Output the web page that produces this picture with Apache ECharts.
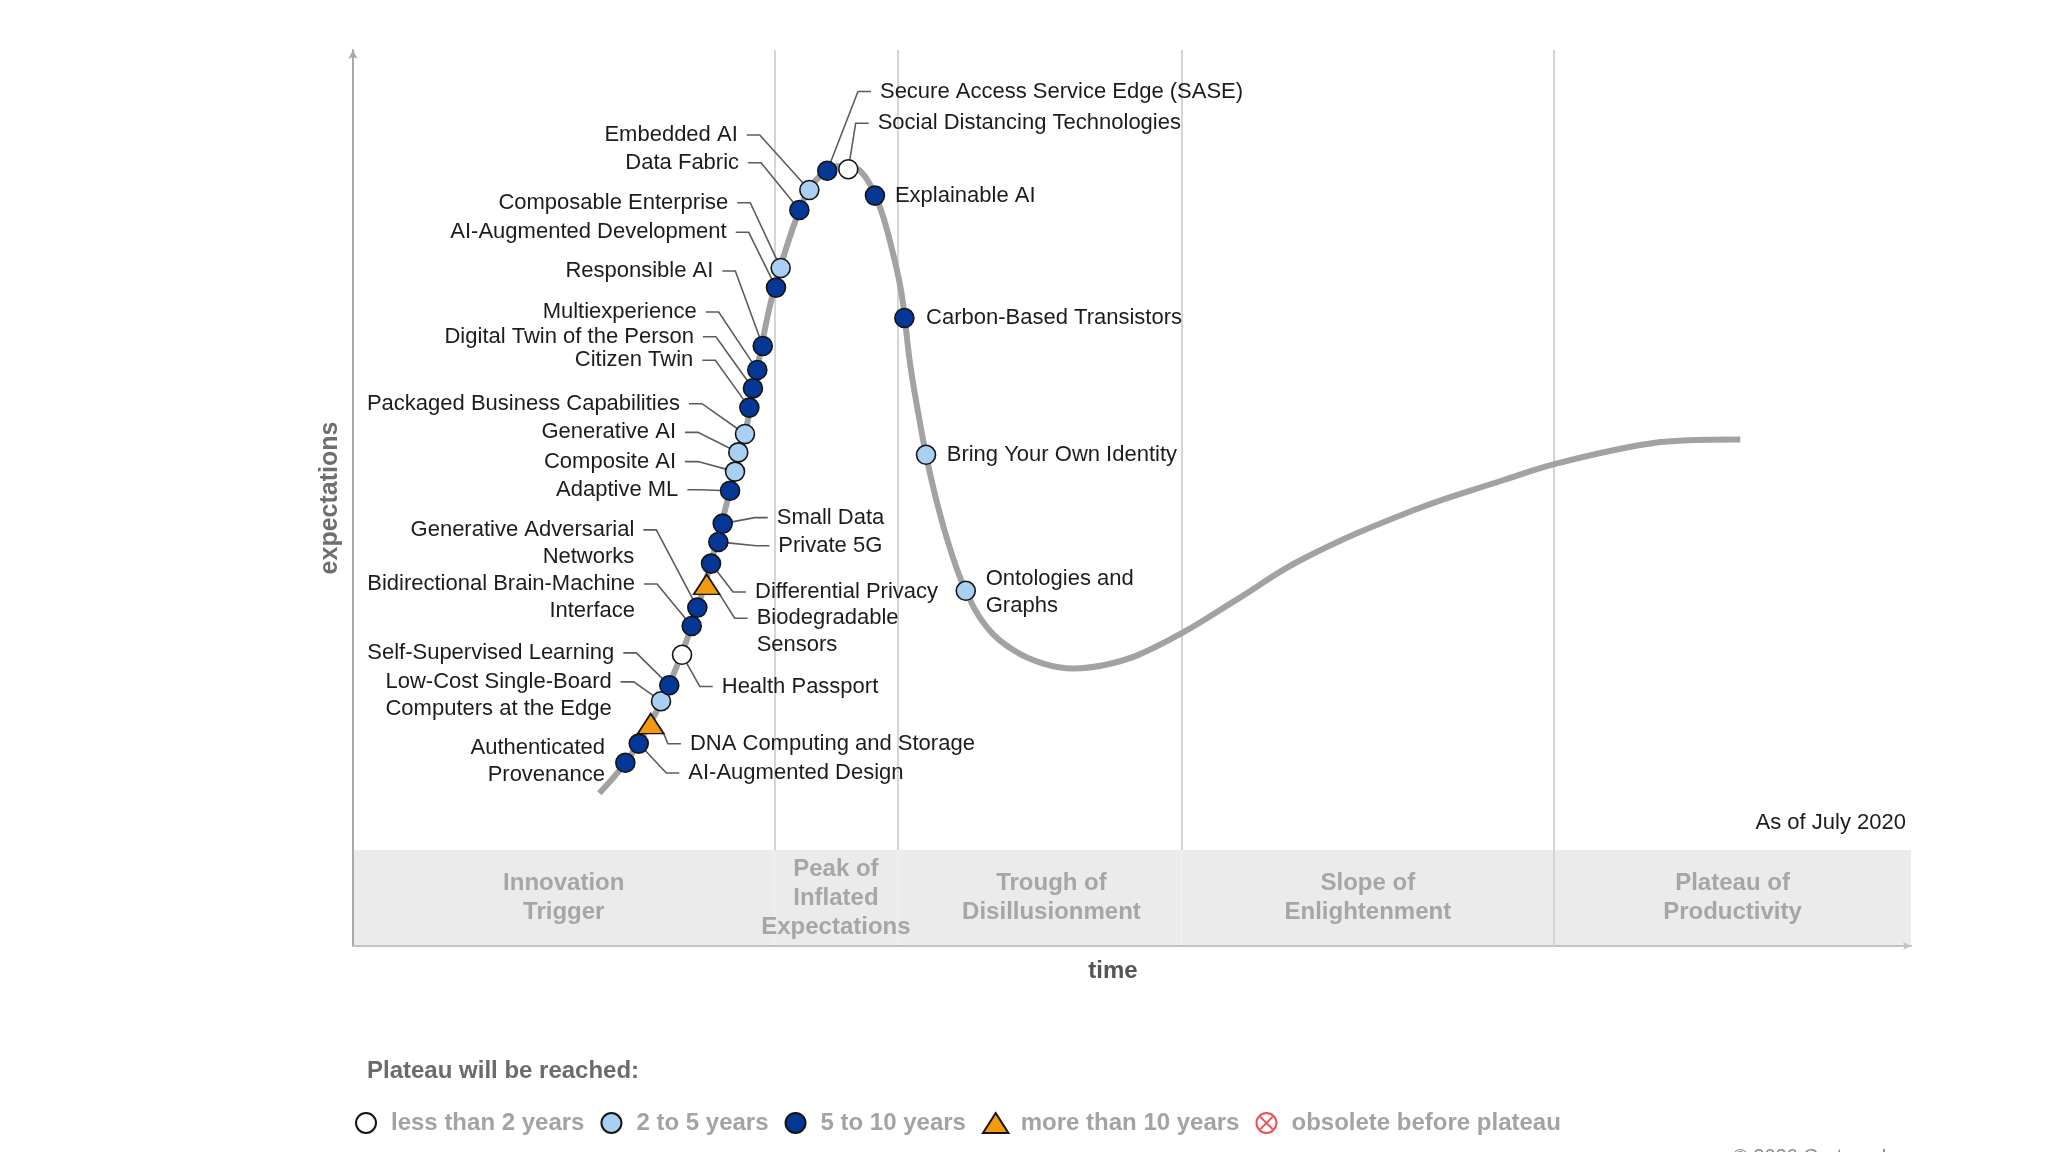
<!DOCTYPE html>
<html lang="en">
<head>
    <meta charset="UTF-8">
    <title>Hype Cycle for Emerging Technologies</title>
    <script src="https://cdn.jsdelivr.net/npm/echarts@6.0.0/dist/echarts.min.js"></script>
    <style>html, body { margin: 0; padding: 0; background: #fff; }</style>
</head>
<body>
    <div id="main" style="width: 2048px;height:1152px;"></div>
    <script>
        // time runs 0..100 across the plot, expectations 0..100 above the phase band
        const curveX = [15.81, 17.48, 19.0, 20.28, 21.74, 22.98, 24.2, 25.16, 25.93, 26.77, 27.53, 28.43, 29.33, 30.42, 31.26, 32.22, 32.93, 33.5, 34.04, 34.68, 35.22, 35.75, 36.28, 36.78, 37.46, 38.32, 39.33, 40.67, 42.38, 44.31, 46.23, 48.16, 50.3, 53.19, 56.72, 60.99, 68.11, 73.86, 77.23, 82.51, 85.38, 89.04];
        const curveY = [7.1, 10.9, 15.6, 20.6, 28.0, 35.9, 44.9, 52.0, 60.0, 68.1, 73.5, 78.8, 82.8, 84.9, 85.5, 85.3, 84.0, 81.9, 79.1, 74.4, 69.4, 60.9, 54.6, 49.4, 43.6, 37.7, 32.4, 27.9, 25.0, 23.3, 22.7, 23.1, 24.3, 27.1, 31.3, 36.4, 42.5, 46.25, 48.3, 50.6, 51.2, 51.3];

        const techNames = [
            'Secure Access Service Edge (SASE)', 'Social Distancing Technologies', 'Embedded AI', 'Data Fabric',
            'Explainable AI', 'Composable Enterprise', 'AI-Augmented Development', 'Carbon-Based Transistors',
            'Responsible AI', 'Multiexperience', 'Digital Twin of the Person', 'Citizen Twin',
            'Packaged Business Capabilities', 'Generative AI', 'Composite AI', 'Adaptive ML',
            'Small Data', 'Private 5G', 'Differential Privacy', 'Biodegradable\nSensors',
            'Generative Adversarial\nNetworks', 'Bidirectional Brain-Machine\nInterface', 'Health Passport', 'Self-Supervised Learning',
            'Low-Cost Single-Board\nComputers at the Edge', 'DNA Computing and Storage', 'AI-Augmented Design', 'Authenticated\nProvenance',
            'Bring Your Own Identity', 'Ontologies and\nGraphs'
        ];
        const techX = [30.44, 31.79, 29.29, 28.65, 33.5, 27.45, 27.15, 35.39, 26.3, 25.95, 25.67, 25.44, 25.16, 24.73, 24.52, 24.2, 23.73, 23.45, 22.98, 22.7, 22.1, 21.74, 21.12, 20.3, 19.77, 19.11, 18.34, 17.48, 36.78, 39.33];
        const techY = [84.9, 85.1, 82.5, 80.0, 81.8, 72.75, 70.3, 66.5, 63.0, 60.0, 57.7, 55.3, 52.0, 49.7, 47.3, 44.9, 40.8, 38.5, 35.8, 33.2, 30.3, 28.0, 24.4, 20.6, 18.6, 15.8, 13.3, 10.9, 49.4, 32.4];
        // 0: <2 years, 1: 2-5 years, 2: 5-10 years, 3: >10 years
        const techPlateau = [2, 0, 1, 2, 2, 1, 2, 2, 2, 2, 2, 2, 1, 1, 1, 2, 2, 2, 2, 3, 2, 2, 0, 2, 1, 3, 2, 2, 1, 1];

        const plateauNames = ['less than 2 years', '2 to 5 years', '5 to 10 years', 'more than 10 years', 'obsolete before plateau'];
        const phaseNames = ['Innovation\nTrigger', 'Peak of\nInflated\nExpectations', 'Trough of\nDisillusionment', 'Slope of\nEnlightenment', 'Plateau of\nProductivity'];
        const phaseBounds = [0, 27.05, 34.94, 53.18, 77.09, 100];

        // label placement: [dx, dy] in px from the marker to the text edge / first line, leader line on or off
        const labelSpots = [
            [52.7, -79.3, 1], [29.4, -46, 1], [-71.6, -55, 1], [-60.3, -47.3, 1],
            [20, 0, 0], [-52.4, -65.3, 1], [-49.3, -55.3, 1], [21.7, 0, 0],
            [-49.4, -75, 1], [-60.6, -58, 1], [-59, -51.6, 1], [-56, -47.3, 1],
            [-65, -30.3, 1], [-62.3, -20, 1], [-59, -10, 1], [-51.7, -1, 1],
            [54, -6, 1], [60, 3.7, 1], [44, 28.4, 1], [50, 33.8, 1],
            [-63, -77.7, 1], [-56.7, -42, 1], [39.7, 31.7, 1], [-55, -32.3, 1],
            [-49.3, -19.3, 1], [39.2, 20.2, 1], [49.6, 29.4, 1], [-20.3, -1.5, 0],
            [20.7, 0, 0], [20, 2, 0]
        ];

        const FONT = 'Liberation Sans';
        const LH = 27, PAD = 9;
        const markers = [
            { symbol: 'circle', size: 19, color: '#ffffff' },
            { symbol: 'circle', size: 19, color: '#a9cff3' },
            { symbol: 'circle', size: 19, color: '#053896' },
            { symbol: 'triangle', size: [26, 20], color: '#f39a0e' }
        ];
        const obsoleteIcon = 'path://M10,1A9,9,0,1,1,9.99,1Z M4.5,4.5L15.5,15.5 M15.5,4.5L4.5,15.5';
        const legendIcons = ['circle', 'circle', 'circle', 'path://M14,0L28,22L0,22Z', obsoleteIcon];

        const members = [[], [], [], []];
        techNames.forEach((n, i) => members[techPlateau[i]].push(i));

        var chartDom = document.getElementById('main');
        var myChart = echarts.init(chartDom);

        const techSeries = members.map((list, k) => ({
            name: plateauNames[k],
            type: 'scatter',
            z: 3,
            symbol: markers[k].symbol,
            symbolSize: markers[k].size,
            itemStyle: { color: markers[k].color, borderColor: '#141414', borderWidth: 1.6, opacity: 1 },
            emphasis: { disabled: true },
            label: {
                show: true, formatter: '{b}', color: '#1c1c1c',
                fontFamily: FONT, fontSize: 22, lineHeight: LH
            },
            labelLine: { show: true, length2: 13, lineStyle: { color: '#5c5c5c', width: 1.6 } },
            labelLayout: function (p) {
                const t = list[p.dataIndex];
                const s = labelSpots[t];
                const cx = p.rect.x + p.rect.width / 2;
                const cy = p.rect.y + p.rect.height / 2;
                const onLeft = s[0] < 0;
                const lines = techNames[t].split('\n').length;
                if (s[2]) {
                    return {
                        x: cx + s[0] + (onLeft ? PAD : -PAD),
                        y: cy + s[1] - (2 * lines - 1) * LH / 2,
                        align: onLeft ? 'right' : 'left',
                        verticalAlign: 'top'
                    };
                }
                return { x: cx + s[0], y: cy + s[1], align: onLeft ? 'right' : 'left', verticalAlign: 'middle' };
            },
            data: list.map(i => {
                const lines = techNames[i].split('\n').length;
                const lead = !!labelSpots[i][2];
                return {
                    name: techNames[i],
                    value: [techX[i], techY[i]],
                    label: lead
                        ? { padding: [(lines - 1) * LH, PAD, 0, PAD], backgroundColor: 'rgba(255,255,255,0)' }
                        : { padding: 0 },
                    labelLine: { show: lead }
                };
            })
        }));

        var option = {
            animation: false,
            grid: { left: 353, right: 137, top: 50, bottom: 206, outerBoundsMode: 'none' },
            title: [
                {
                    text: 'As of July 2020', right: 142, top: 812, padding: 0,
                    textStyle: { fontFamily: FONT, fontSize: 22, fontWeight: 'normal', color: '#1c1c1c' }
                },
                {
                    text: 'Plateau will be reached:', left: 367, top: 1059, padding: 0,
                    textStyle: { fontFamily: FONT, fontSize: 24, fontWeight: 'bold', color: '#6b6b6b' }
                },
                {
                    text: '© 2020 Gartner, Inc.', left: 1733, top: 1147, padding: 0,
                    textStyle: { fontFamily: FONT, fontSize: 20, fontWeight: 'normal', color: '#8a8a8a' }
                }
            ],
            legend: {
                left: 355, top: 1111, padding: 0, orient: 'horizontal',
                itemWidth: 40, itemHeight: 20, itemGap: 16, selectedMode: false,
                itemStyle: { borderWidth: 2 },
                textStyle: { fontFamily: FONT, fontSize: 24, fontWeight: 'bold', color: '#a3a3a3' },
                data: plateauNames.map((n, k) => ({ name: n, icon: legendIcons[k] }))
            },
            xAxis: {
                type: 'value', min: 0, max: 100,
                name: 'time', nameLocation: 'middle', nameGap: 13,
                nameTextStyle: { fontFamily: FONT, fontSize: 24, fontWeight: 'bold', color: '#555555', padding: [0, 38, 0, 0] },
                axisLine: { show: true, onZero: false, symbol: ['none', 'arrow'], symbolSize: [6, 8], lineStyle: { color: '#c2c2c2', width: 2 } },
                axisTick: { show: false }, axisLabel: { show: false }, splitLine: { show: false }
            },
            yAxis: {
                type: 'value', min: -12, max: 100,
                name: 'expectations', nameLocation: 'middle', nameGap: 10, nameRotate: 90,
                nameTextStyle: { fontFamily: FONT, fontSize: 25, fontWeight: 'bold', color: '#6e6e6e' },
                axisLine: { show: true, onZero: false, symbol: ['none', 'arrow'], symbolSize: [7, 9], lineStyle: { color: '#a9a9a9', width: 2 } },
                axisTick: { show: false }, axisLabel: { show: false }, splitLine: { show: false }
            },
            series: [
                {
                    name: 'hype curve',
                    type: 'line',
                    z: 2,
                    silent: true,
                    showSymbol: false,
                    smooth: 0.4,
                    lineStyle: { color: '#a2a2a2', width: 6 },
                    data: curveX.map((x, i) => [x, curveY[i]]),
                    markArea: {
                        silent: true, z: 0,
                        itemStyle: { color: '#ebebeb' },
                        label: {
                            show: true, position: 'inside', color: '#a6a6a6',
                            fontFamily: FONT, fontSize: 24, fontWeight: 'bold', lineHeight: 29
                        },
                        data: phaseNames.map((n, i) => {
                            const from = { name: n, xAxis: phaseBounds[i], yAxis: -12 };
                            if (i === 2) from.label = { offset: [12, 0] };
                            return [from, { xAxis: phaseBounds[i + 1], yAxis: 0 }];
                        })
                    },
                    markLine: {
                        silent: true, z: 1,
                        symbol: ['none', 'none'],
                        label: { show: false },
                        lineStyle: { color: '#d5d5d5', width: 2, type: 'solid' },
                        data: phaseBounds.slice(1, -1).map((b, i) => [
                            { coord: [b, i === 3 ? -12 : 0] },
                            { coord: [b, 100] }
                        ])
                    }
                }
            ].concat(techSeries, [{
                name: plateauNames[4],
                type: 'scatter',
                symbol: obsoleteIcon,
                itemStyle: { color: 'rgba(0,0,0,0)', borderColor: '#e8232a', borderWidth: 2 },
                data: []
            }])
        };

        myChart.setOption(option);
    </script>
</body>
</html>
